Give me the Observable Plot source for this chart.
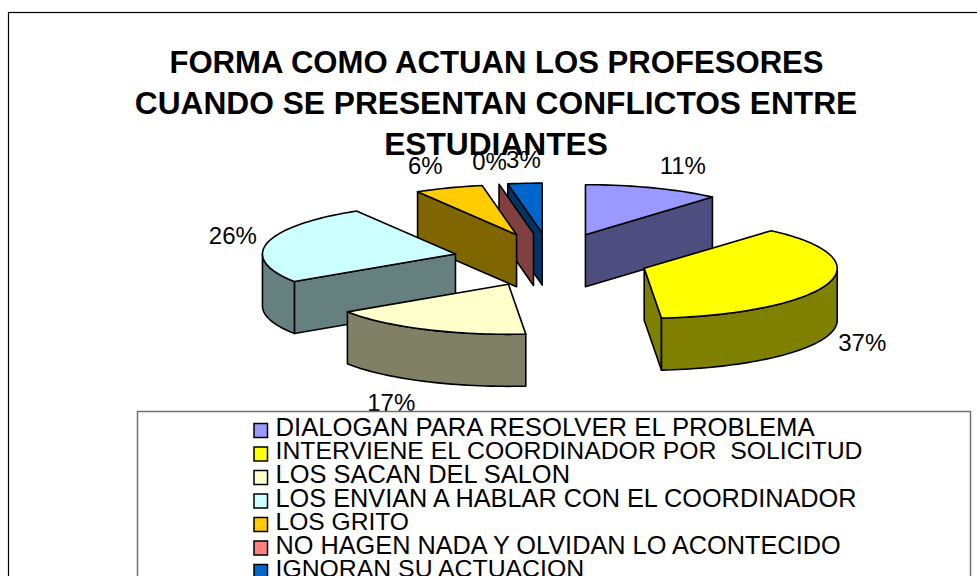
<!DOCTYPE html>
<html><head><meta charset="utf-8">
<script src="https://cdn.jsdelivr.net/npm/d3@7"></script>
<script src="https://cdn.jsdelivr.net/npm/@observablehq/plot@0.6"></script>
<style>
html,body{margin:0;padding:0;background:#fff;overflow:hidden}
svg{display:block}
svg text{white-space:pre}
</style></head><body><div id="chart"></div>
<script>
const categories = ["DIALOGAN PARA RESOLVER EL PROBLEMA","INTERVIENE EL COORDINADOR POR  SOLICITUD","LOS SACAN DEL SALON","LOS ENVIAN A HABLAR CON EL COORDINADOR","LOS GRITO","NO HAGEN NADA Y OLVIDAN LO ACONTECIDO","IGNORAN SU ACTUACION"];
const counts = [4,13,6,9,2,0,1];
const topColors = ["#9999FF","#FFFF00","#FFFFCC","#CCFFFF","#FFCC00","#FF8080","#0066CC"];
const wallColors = ["#4D4D80","#808000","#808066","#668080","#806600","#804040","#003366"];
const titleLines = ["FORMA COMO ACTUAN LOS PROFESORES","CUANDO SE PRESENTAN CONFLICTOS ENTRE","ESTUDIANTES"];
const drawOrder = [6,5,4,0,3,1,2];
const labelNudge = [[28,-22],[33,60],[-35,74],[-36,-7],[-25,-22],[-11,-22],[-3,-23]]; // label offsets from the arc point

const W=977,H=576;
const cx=550.5,cy=259.5,rx=193,ry=50,ex=98,ey=27,depth=52;
const total=d3.sum(counts);
const arcs=[];let cum=0;
counts.forEach((c,i)=>{const a0=cum/total*2*Math.PI;cum+=c;const a1=cum/total*2*Math.PI;const m=(a0+a1)/2;
  arcs.push({i,a0,a1,m,ax:cx+ex*Math.sin(m),ay:cy-ey*Math.cos(m)});});
const pt=(s,a,d=0)=>[s.ax+rx*Math.sin(a),s.ay-ry*Math.cos(a)+d];
function samples(a0,a1){const n=Math.max(1,Math.ceil((a1-a0)/0.03));return d3.range(n+1).map(k=>a0+(a1-a0)*k/n);}
const faces=[];let fid=0;
function addFace(poly,color){const id=fid++;poly.forEach(p=>faces.push({id,x:p[0],y:p[1],color}));}
for(const i of drawOrder){const s=arcs[i];const wc=wallColors[i];
  if(-Math.sin(s.a0)>1e-6) addFace([[s.ax,s.ay],pt(s,s.a0),pt(s,s.a0,depth),[s.ax,s.ay+depth]],wc);
  if(Math.sin(s.a1)>1e-6) addFace([[s.ax,s.ay],pt(s,s.a1),pt(s,s.a1,depth),[s.ax,s.ay+depth]],wc);
  const f0=Math.max(s.a0,Math.PI/2),f1=Math.min(s.a1,1.5*Math.PI);
  if(f1>f0){const ss=samples(f0,f1);addFace([...ss.map(a=>pt(s,a)),...ss.slice().reverse().map(a=>pt(s,a,depth))],wc);}
  if(s.a1>s.a0) addFace([[s.ax,s.ay],...samples(s.a0,s.a1).map(a=>pt(s,a))],topColors[i]);
}
const pct=d3.format(".0%");
const labels=arcs.map((s,i)=>{const p=pt(s,s.m);return {text:pct(counts[i]/total),x:p[0]+labelNudge[i][0]+1.5,y:p[1]+labelNudge[i][1]};});
const titles=titleLines.map((t,k)=>({t,k,y:63+k*40.5}));
const legend=categories.map((c,k)=>({c,k,y:427.5+k*23.5,color:topColors[k]}));
const boxes=[{x1:8.5,x2:W+5,y1:12.5,y2:H+5,stroke:"#000"},{x1:137.5,x2:970.5,y1:411.5,y2:H+5,stroke:"#707070"}];
const legendSizes=[25.7,24.8,25.45,25.3,24.6,25.3,24.8];

const chart=Plot.plot({width:W,height:H,margin:0,
  x:{domain:[0,W],range:[0,W],axis:null},y:{domain:[0,H],range:[0,H],axis:null},color:{type:"identity"},
  marks:[
    Plot.rect(boxes.slice(0,1),{x1:"x1",x2:"x2",y1:"y1",y2:"y2",fill:"none",stroke:"stroke",strokeWidth:1.2}),
    Plot.text(titles.filter(d=>d.k===0),{x:496,y:"y",text:"t",fontFamily:"Liberation Sans",fontWeight:"bold",fontSize:31.1,fill:"#000"}),
    Plot.text(titles.filter(d=>d.k>0),{x:495.5,y:"y",text:"t",fontFamily:"Liberation Sans",fontWeight:"bold",fontSize:31.7,fill:"#000"}),
    Plot.line(faces,{x:"x",y:"y",z:"id",fill:"color",stroke:"#000",strokeWidth:1.6,strokeLinejoin:"round",curve:"linear-closed"}),
    Plot.text(labels,{x:"x",y:"y",text:"text",fontFamily:"Liberation Sans",fontSize:24,fill:"#000"}),
    Plot.rect(boxes.slice(1),{x1:"x1",x2:"x2",y1:"y1",y2:"y2",fill:"#fff",stroke:"stroke",strokeWidth:1.5}),
    Plot.rect(legend,{x1:()=>254,x2:()=>267.5,y1:d=>d.y-4,y2:d=>d.y+10,fill:"color",stroke:"#000",strokeWidth:1.5}),
    ...legend.map(d=>Plot.text([d],{x:275,y:"y",text:"c",textAnchor:"start",fontFamily:"Liberation Sans",fontSize:legendSizes[d.k],fill:"#000"}))
  ]});
document.getElementById("chart").append(chart);
</script></body></html>
